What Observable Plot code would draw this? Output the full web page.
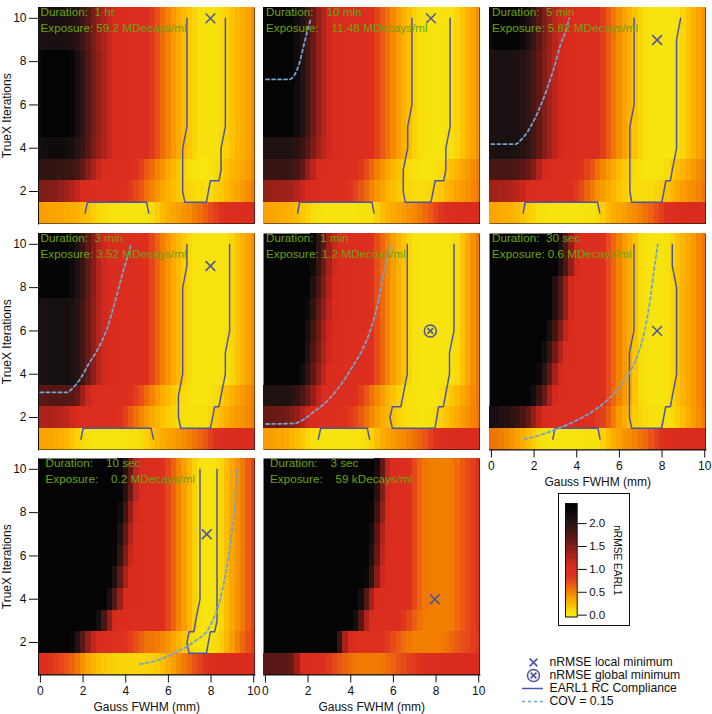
<!DOCTYPE html>
<html>
<head>
<meta charset="utf-8">
<script src="https://cdn.jsdelivr.net/npm/d3@7"></script>
<script src="https://cdn.jsdelivr.net/npm/@observablehq/plot@0.6"></script>
<style>
html,body{margin:0;padding:0;background:#fff;}
#chart{position:relative;width:712px;height:714px;overflow:hidden;font-family:"Liberation Sans",Arial,sans-serif;}
#chart svg{position:absolute;display:block;}
#cbbox{position:absolute;left:558px;top:493px;width:70px;height:131px;border:1.5px solid #111;}
</style>
</head>
<body>
<div id="chart"><div id="cbbox"></div></div>
<script>
// nRMSE EARL1 in hundredths, columns every 0.25 mm up to 10 mm (rows are right-aligned: columns
// left of a short row are off the top of the colour scale, i.e. black).
const p1R=[80,70,58,48,38,30,22,16,10,6,5,5,6,9,12,18,24,28,34,44];
const p1L4=[212,215,218,218,218,215,210,200,188,170,152,138,126,114,105,100,95,95,92,90,88];
const p1L6=[225,232,235,235,235,232,225,210,195,175,155,140,128,115,105,100,95,95,92,90,88];
const p1L10=[205,208,210,210,210,208,205,197,185,170,152,138,126,114,105,100,95,95,92,90,88];
const p1r1=[36,35,34,33,32,30,28,26,22,18,14,10,8,6,5,4,4,4,4,4,5,8,14,22,28,32,36,40,44,50,56,64,72,78,84,88,92,95,98,100,100];
const p1r2=[150,150,148,145,142,135,125,115,105,98,94,90,88,88,90,88,84,80,74,66,56,48,40,32,26,20,16,12,10,8,7,6,8,12,16,22,28,32,38,44,52];
const p1r3=[192,192,192,192,190,188,185,178,165,145,128,112,102,96,94,92,90,88,84,76,66,58,48,40,30,24,16,10,6,4,3,3,5,8,12,18,24,28,32,38,46];
const p1Rows=[p1r1,p1r2,p1r3,p1L4.concat(p1R),p1L6.concat(p1R),p1L6.concat(p1R),p1L6.concat(p1R),p1L6.concat(p1R),p1L10.concat(p1R),p1L10.concat(p1R)];

const p2R=[76,66,56,46,36,27,20,12,7,5,4,4,4,5,6,10,18,26,34,42];
const p2L4=[205,205,205,205,205,203,198,188,172,152,135,122,110,100,96,94,92,90,88,86,84];
const p2L5=[232,232,232,232,232,228,218,202,182,160,140,124,110,100,96,94,92,90,88,86,84];
const p2r1=[34,33,32,30,28,26,22,16,12,8,6,4,4,4,4,4,4,4,5,5,6,12,20,26,30,34,38,42,46,52,58,66,74,82,88,92,95,98,100,100,100];
const p2r2=[138,138,138,136,135,132,125,115,105,98,94,90,88,88,90,86,82,76,68,58,48,40,34,26,20,16,12,10,8,8,8,10,12,16,22,28,34,38,42,46,52];
const p2r3=[188,188,188,188,188,186,180,165,142,122,105,96,92,90,90,88,86,84,80,72,60,50,40,32,24,18,12,8,6,4,4,4,5,8,14,20,26,32,38,44,50];
const p2Rows=[p2r1,p2r2,p2r3,p2L4.concat(p2R),p2L5.concat(p2R),p2L5.concat(p2R),p2L5.concat(p2R),p2L5.concat(p2R),p2L5.concat(p2R),p2L5.concat(p2R)];

const p3R=[78,66,54,44,34,26,18,10,6,4,4,4,4,4,5,10,18,26,34,42];
const p3L4=[205,208,210,210,208,205,200,192,180,165,148,132,120,108,100,96,94,92,90,88,86];
const p3L9=[225,230,232,232,232,228,218,205,188,170,150,135,122,110,100,96,94,92,90,88,86];
const p3r1=[32,32,30,28,26,22,18,14,10,6,5,4,4,4,4,4,4,5,5,6,8,14,22,28,32,36,40,44,50,56,62,70,78,86,90,94,97,100,100,100,100];
const p3r2=[132,132,130,128,125,120,112,105,98,94,90,88,88,90,90,86,80,72,62,52,42,36,30,24,18,14,10,8,8,8,8,10,12,18,24,30,36,40,44,48,54];
const p3r3=[180,180,180,180,178,175,170,160,145,125,108,98,92,90,90,88,85,82,76,68,56,46,38,30,22,16,12,8,6,4,4,4,5,8,14,20,26,32,38,44,50];
const p3Rows=[p3r1,p3r2,p3r3,p3L4.concat(p3R),p3L4.concat(p3R),p3L4.concat(p3R),p3L4.concat(p3R),p3L4.concat(p3R),p3L9.concat(p3R),p3L9.concat(p3R)];

const p4R=[74,62,50,40,30,22,14,8,5,4,4,4,4,4,5,10,18,26,34,42];
const p4L4=[208,210,212,212,212,212,208,198,182,160,142,124,110,100,96,94,92,90,88,86,84];
const p4L8=[230,232,232,232,232,230,222,205,188,165,145,125,110,100,96,94,92,90,88,86,84];
const p4r1=[34,34,32,30,28,24,18,12,8,5,4,4,4,4,4,4,4,5,6,8,12,18,24,28,32,36,40,44,48,54,60,68,76,84,90,94,97,100,100,100,100];
const p4r2=[128,128,128,125,122,118,110,102,96,92,90,88,88,88,88,84,76,66,56,46,38,30,24,18,14,10,8,6,5,5,5,6,10,16,22,28,34,38,42,46,52];
const p4r3=[170,170,172,172,172,172,170,160,135,112,98,92,90,90,92,90,88,84,78,70,58,48,38,28,22,16,10,8,6,4,4,4,5,8,14,20,26,32,38,44,50];
const p4Rows=[p4r1,p4r2,p4r3,p4L4.concat(p4R),p4L4.concat(p4R),p4L4.concat(p4R),p4L4.concat(p4R),p4L8.concat(p4R),p4L8.concat(p4R),p4L8.concat(p4R)];

const p5R=[72,60,48,36,26,18,10,5,4,4,4,4,4,4,5,8,18,30,42,52];
const p5L4=[232,218,195,168,142,120,104,97,94,92,90,88,86,85,84];
const p5L5=[230,205,178,152,128,110,100,96,94,92,90,88,86,84];
const p5L6=[232,212,185,158,132,112,102,97,94,92,90,88,86,84];
const p5L7=[222,195,165,140,118,104,98,96,94,92,90,88,84];
const p5L8=[228,205,178,150,125,106,98,96,94,92,90,88,84];
const p5L9=[218,188,158,130,110,100,96,94,92,90,88,84];
const p5L10=[225,195,165,135,112,100,96,94,92,90,88,84];
const p5r1=[38,36,34,32,30,26,22,16,10,6,4,4,4,4,4,4,4,5,6,8,12,20,28,34,38,42,46,50,56,62,68,76,84,90,94,97,100,100,100,100,100];
const p5r2=[162,162,160,158,155,150,140,125,110,98,92,88,86,86,86,84,80,74,66,56,46,38,30,24,18,12,8,6,5,4,4,5,8,12,18,24,30,36,42,48,54];
const p5r3=[205,205,205,205,205,200,192,178,160,140,118,104,96,92,90,90,88,84,78,68,56,46,36,26,18,12,8,5,4,4,4,4,4,6,10,16,22,30,38,46,54];
const p5Rows=[p5r1,p5r2,p5r3,p5L4.concat(p5R),p5L5.concat(p5R),p5L6.concat(p5R),p5L7.concat(p5R),p5L8.concat(p5R),p5L9.concat(p5R),p5L10.concat(p5R)];

const p6R=[84,72,60,48,38,28,18,8,5,4,4,4,5,10,18,26,32,38,46,54];
const p6L3=[232,215,188,160,130,108,97,94,92,90,90,90,89,88];
const p6L4=[222,195,165,132,108,97,94,92,90,90,89,88];
const p6L5=[215,188,158,125,105,96,93,91,90,89,88];
const p6L6=[232,212,182,150,118,100,94,92,90,89,88];
const p6L7=[228,205,172,138,108,96,92,90,89,88];
const p6L9=[228,205,175,140,108,96,92,90,88];
const p6r1=[56,54,50,46,40,34,28,20,14,8,5,4,4,4,4,4,4,4,5,5,6,12,20,28,34,40,44,48,54,60,68,76,84,90,94,97,100,100,100,100,100];
const p6r2=[210,210,205,200,196,188,178,162,140,118,104,96,92,90,90,90,88,88,86,84,80,76,64,50,38,28,20,14,10,8,6,5,5,6,8,14,20,28,36,44,52];
const p6Rows=[p6r1,p6r2,p6L3.concat(p6R),p6L4.concat(p6R),p6L5.concat(p6R),p6L6.concat(p6R),p6L7.concat(p6R),p6L7.concat(p6R),p6L9.concat(p6R),p6L9.concat(p6R)];

const p7R=[92,90,85,75,62,48,36,24,12,6,4,4,5,10,20,32,42,52,64,76];
const p7r1=[88,86,82,78,74,68,62,52,42,32,26,20,16,14,12,10,10,10,10,10,10,12,14,20,28,36,44,52,60,68,76,84,90,94,97,98,100,100,100,100,100];
const p7L2=[225,200,170,140,115,100,95,90,86,84,82,78,70,62,56];
const p7R2=[54,50,46,40,32,24,16,10,6,4,4,5,8,14,24,36,48,60,70,78];
const p7L3=[215,180,140,108,97,94,93,92,92,91];
const p7L4=[232,210,172,135,106,97,95,94,93];
const p7L5=[230,205,165,128,104,97,95,94];
const p7L6=[225,190,150,112,98,95,94];
const p7L7=[232,205,165,125,102,96,94];
const p7L8=[218,182,140,108,96,94];
const p7L9=[228,200,160,120,100,96];
const p7Rows=[p7r1,p7L2.concat(p7R2),p7L3.concat(p7R),p7L4.concat(p7R),p7L5.concat(p7R),p7L6.concat(p7R),p7L7.concat(p7R),p7L8.concat(p7R),p7L9.concat(p7R),p7L9.concat(p7R)];

const p8R=[90,85,74,62,54,52,50,50,50,52,58,66,72,78,84];
const p8r1=[170,170,170,170,168,160,135,105,96,92,90,86,80,74,68,62,58,54,52,52,52,52,54,58,62,68,72,76,80,84,88,90,92,94,96,97,98,98,100,100,100];
const p8r2=[230,190,130,98,88,84,84,84,84,84,80,72,66,58,54,50,50,50,50,50,52,56,60,66,70,74,78,82];
const p8L3=[215,170,125,100,93,91,90,89,88];
const p8R3=[82,74,64,56,52,50,50,50,50,52,58,66,72,78,84];
const p8L4=[215,175,130,102,94,91,90,89];
const p8L5=[225,190,145,110,96,92,90];
const p8L6=[232,205,160,118,98,93,91];
const p8L7=[215,170,125,100,94,92];
const p8L8=[225,185,140,105,95,92];
const p8L9=[232,200,150,110,96,92];
const p8L10=[215,165,120,98,92];
const p8Rows=[p8r1,p8r2,p8L3.concat(p8R3),p8L4.concat(p8R),p8L5.concat(p8R),p8L6.concat(p8R),p8L7.concat(p8R),p8L8.concat(p8R),p8L9.concat(p8R),p8L10.concat(p8R)];

// EARL1 RC compliance outlines and COV = 0.15 curves: [Gauss FWHM, iterations]
const p1Comp=[[6.87,10],[6.87,5],[6.67,4],[6.67,2],[6.77,1.5],[7.78,1.5],[7.97,2.5],[8.37,2.5],[8.47,3],[8.47,4],[8.67,5],[8.67,10]];
const p1Comp2=[[2.1,1],[2.2,1.5],[4.98,1.5],[5.08,1]];
const p2Comp=[[6.87,10],[6.87,6],[6.67,5],[6.67,4],[6.46,3],[6.46,2],[6.56,1.5],[7.76,1.5],[7.96,2.5],[8.36,2.5],[8.46,3],[8.46,4],[8.66,5],[8.66,10]];
const p2Comp2=[[1.51,1],[1.6,1.5],[5,1.5],[5.09,1]];
const p2Cov=[[0.03,7.18],[1.12,7.18],[1.36,7.38],[1.59,7.92],[1.82,8.84],[1.98,9.46],[2.13,10]];
const p3Comp=[[6.69,10],[6.69,6],[6.49,5],[6.49,2],[6.58,1.5],[7.99,1.5],[8.18,2.5],[8.39,2.5],[8.48,3],[8.68,4],[8.68,9],[8.87,10]];
const p3Comp2=[[1.49,1],[1.58,1.5],[4.98,1.5],[5.08,1]];
const p3Cov=[[0,4.19],[1.14,4.19],[1.38,4.38],[1.69,4.76],[2,5.3],[2.32,6],[2.63,6.81],[2.95,7.77],[3.26,8.84],[3.5,9.46],[3.65,10]];
const p4Comp=[[6.87,10],[6.87,9],[6.67,8],[6.67,4],[6.47,3],[6.47,2],[6.58,1.5],[7.97,1.5],[8.17,2.5],[8.37,2.5],[8.67,4],[8.67,5],[8.87,6],[8.87,10]];
const p4Comp2=[[1.9,1],[2,1.5],[5.19,1.5],[5.3,1]];
const p4Cov=[[0,3.16],[1.25,3.16],[1.48,3.33],[1.87,3.79],[2.27,4.49],[2.66,5.1],[3.12,6.1],[3.52,7.42],[3.83,8.58],[4.06,9.35],[4.25,10]];
const p5Comp=[[6.65,10],[6.65,4],[6.35,2.5],[5.95,2.5],[5.84,2],[5.95,1.5],[7.95,1.5],[8.12,2.5],[8.34,2.5],[8.63,4],[8.63,5],[8.84,6],[8.84,10]];
const p5Comp2=[[2.48,1],[2.59,1.5],[4.78,1.5],[4.88,1]];
const p5Cov=[[0.03,1.7],[1.35,1.73],[1.74,1.88],[2.28,2.27],[2.83,2.7],[3.45,3.4],[4.07,4.33],[4.53,5.1],[4.92,6.03],[5.23,7.1],[5.54,8.65],[5.73,9.43],[5.9,10]];
const p6Comp=[[6.68,10],[6.68,6],[6.47,5],[6.47,2],[6.58,1.5],[7.98,1.5],[8.17,2.5],[8.39,2.5],[8.68,4],[8.68,8],[8.48,9],[8.48,10]];
const p6Comp2=[[2.88,1],[2.98,1.5],[5,1.5],[5.09,1]];
const p6Cov=[[1.54,1],[2.32,1.2],[2.98,1.44],[3.89,1.82],[4.98,2.44],[5.77,3.14],[6.47,4.07],[6.87,4.92],[7.18,6],[7.41,7.23],[7.62,8.78],[7.8,10]];
const p7Comp=[[7.48,10],[7.48,4],[7.28,3],[7.19,2.5],[6.97,2.5],[6.87,2],[6.97,1.5],[7.78,1.5],[7.97,2.5],[8.17,2.5],[8.28,3],[8.28,10]];
const p7Cov=[[4.66,1],[5.47,1.18],[6.4,1.57],[7.19,2.03],[7.97,2.8],[8.44,4.04],[8.75,5.58],[8.98,7.13],[9.14,8.83],[9.19,10]];

// nRMSE minimum of each panel: [Gauss FWHM, iterations]
const localMinima=[[7.97,10],[7.76,10],[7.77,9],[7.97,9],null,[7.77,6],[7.8,7],[7.94,4]];
const globalMinima=[null,null,null,null,[7.73,6],null,null,null];

const durationLabels=["Duration:\u00a0\u00a01 hr","Duration:\u00a0\u00a0\u00a0\u00a010 min","Duration:\u00a0\u00a05 min","Duration:\u00a0\u00a03 min","Duration:\u00a0\u00a01 min","Duration:\u00a0\u00a030 sec","Duration:\u00a0\u00a0\u00a0\u00a010 sec","Duration:\u00a0\u00a0\u00a0\u00a03 sec"];
const exposureLabels=["Exposure: 59.2 MDecays/ml","Exposure:\u00a0\u00a0\u00a0\u00a011.48 MDecays/ml","Exposure: 5.82 MDecays/ml","Exposure: 3.52 MDecays/ml","Exposure: 1.2 MDecays/ml","Exposure: 0.6 MDecays/ml","Exposure:\u00a0\u00a0\u00a0\u00a00.2 MDecays/ml","Exposure:\u00a0\u00a0\u00a0\u00a059 kDecays/ml"];
const xTicks=[0,2,4,6,8,10];
const yTicks=[2,4,6,8,10];
const cbTicks=[0,0.5,1,1.5,2];
const legendItems=["nRMSE local minimum","nRMSE global minimum","EARL1 RC Compliance","COV = 0.15"];

const colorStops=[0,.06,.12,.2,.35,.5,.7,.85,1.05,1.3,1.6,1.9,2.1,2.3];
const colorRange=["#f8e80f","#f7e00c","#fbd008","#fdbe00","#faa000","#f28000","#e8501a","#dc2f1e","#d92b1e","#a8221a","#6a1a16","#341512","#181010","#040404"];
const colorOpts={type:"linear",domain:colorStops,range:colorRange,clamp:true};

const NAVY="#4a55a6", BLUE="#6fa6d6", GREEN="#6aa50f", FONT="'Liberation Sans',Arial,sans-serif";
const panels=[
 {rows:p1Rows,comp:p1Comp,comp2:p1Comp2,left:38,top:7,tx:2,yAxis:true},
 {rows:p2Rows,comp:p2Comp,comp2:p2Comp2,cov:p2Cov,left:262.5,top:7,tx:2.5},
 {rows:p3Rows,comp:p3Comp,comp2:p3Comp2,cov:p3Cov,left:488.5,top:7,tx:2.5},
 {rows:p4Rows,comp:p4Comp,comp2:p4Comp2,cov:p4Cov,left:38,top:233,tx:2,yAxis:true},
 {rows:p5Rows,comp:p5Comp,comp2:p5Comp2,cov:p5Cov,left:262.5,top:233,tx:2.5},
 {rows:p6Rows,comp:p6Comp,comp2:p6Comp2,cov:p6Cov,left:488.5,top:233,tx:2.5,xAxis:true},
 {rows:p7Rows,comp:p7Comp,cov:p7Cov,left:38,top:458,tx:7,yAxis:true,xAxis:true},
 {rows:p8Rows,left:262.5,top:458,tx:6.5,xAxis:true}
];

const COLS=41, STEP=0.25;
const chart=document.getElementById("chart");

function place(svg,left,top){svg.style.left=left+"px";svg.style.top=top+"px";chart.appendChild(svg);}

panels.forEach((p,i)=>{
  const cells=[];
  p.rows.forEach((row,r)=>{
    if(row.length>COLS) throw new Error("panel "+(i+1)+" row "+(r+1)+" has "+row.length);
    const start=COLS-row.length;
    row.forEach((v,k)=>{
      const x=(start+k)*STEP;
      cells.push({x1:x-STEP/2,x2:x+STEP/2,y1:r+0.5,y2:r+1.5,v:v/100});
    });
  });
  const ml=p.yAxis?38:0, mb=p.xAxis?39:0, w=216.5, h=216.5;
  const marks=[
    Plot.frame({fill:"#040404",stroke:"none"}),
    Plot.rect(cells,{x1:"x1",x2:"x2",y1:"y1",y2:"y2",fill:"v",shapeRendering:"crispEdges",clip:true})
  ];
  if(p.comp) marks.push(Plot.line(p.comp,{x:d=>d[0],y:d=>d[1],stroke:NAVY,strokeWidth:1.5}));
  if(p.comp2) marks.push(Plot.line(p.comp2,{x:d=>d[0],y:d=>d[1],stroke:NAVY,strokeWidth:1.5}));
  if(p.cov) marks.push(Plot.line(p.cov,{x:d=>d[0],y:d=>d[1],stroke:BLUE,strokeWidth:1.8,strokeDasharray:"3,3",curve:"monotone-x"}));
  if(localMinima[i]) marks.push(Plot.dot([localMinima[i]],{x:d=>d[0],y:d=>d[1],symbol:"times",r:4.5,stroke:NAVY,strokeWidth:1.5}));
  if(globalMinima[i]) marks.push(
    Plot.dot([globalMinima[i]],{x:d=>d[0],y:d=>d[1],r:6,stroke:NAVY,strokeWidth:1.5}),
    Plot.dot([globalMinima[i]],{x:d=>d[0],y:d=>d[1],symbol:"times",r:2.6,stroke:NAVY,strokeWidth:1.6})
  );
  marks.push(
    Plot.text([durationLabels[i]],{frameAnchor:"top-left",dx:p.tx,dy:5,lineAnchor:"middle",fill:GREEN,fontSize:11.7}),
    Plot.text([exposureLabels[i]],{frameAnchor:"top-left",dx:p.tx,dy:21,lineAnchor:"middle",fill:GREEN,fontSize:11.7})
  );
  if(p.yAxis) marks.push(
    Plot.axisY({anchor:"left",ticks:yTicks,tickSize:9,tickPadding:3,tickFormat:d3.format("d"),label:"TrueX Iterations",labelAnchor:"center",labelArrow:"none",labelOffset:36,fontSize:12}),
    Plot.frame({anchor:"left",stroke:"#111"})
  ); else marks.push(Plot.axisY({ticks:[]}));
  if(p.xAxis) marks.push(
    Plot.axisX({anchor:"bottom",ticks:xTicks,tickSize:8,tickPadding:3,tickFormat:d3.format("d"),label:"Gauss FWHM (mm)",labelAnchor:"center",labelArrow:"none",labelOffset:36,fontSize:12}),
    Plot.frame({anchor:"bottom",stroke:"#111"})
  ); else marks.push(Plot.axisX({ticks:[]}));
  const svg=Plot.plot({
    width:ml+w+1, height:h+mb,
    marginLeft:ml, marginRight:1, marginTop:0, marginBottom:mb,
    x:{domain:[-0.09,10.06]}, y:{domain:[0.5,10.5]},
    color:colorOpts,
    style:{fontFamily:FONT,fontSize:"11.6px",color:"#111",background:"none",overflow:"visible"},
    marks
  });
  place(svg,p.left-ml,p.top);
});

// colour bar
const cbCells=d3.range(-0.04,2.44,0.02).map(v=>({y1:v,y2:v+0.02,v:Math.max(v,0)}));
place(Plot.plot({
  width:72,height:133,marginLeft:7,marginRight:53.3,marginTop:10,marginBottom:9.5,
  x:{axis:null,domain:[0,1]},
  y:{domain:[-0.04,2.44]},
  color:colorOpts,
  style:{fontFamily:FONT,fontSize:"11.5px",color:"#111",background:"none"},
  marks:[
    Plot.rect(cbCells,{x1:0,x2:1,y1:"y1",y2:"y2",fill:"v",shapeRendering:"crispEdges"}),
    Plot.frame({stroke:"#111"}),
    Plot.axisY({anchor:"right",ticks:cbTicks,tickSize:9,tickPadding:3,tickFormat:d3.format(".1f"),label:null,fontSize:11.5}),
    Plot.text(["nRMSE EARL1"],{frameAnchor:"right",dx:40,rotate:90,textAnchor:"middle",lineAnchor:"middle",fontSize:10.2,fill:"#111"})
  ]
}),558,493);

// key
place(Plot.plot({
  width:190,height:69,margin:0,
  x:{axis:null,domain:[0,190],range:[0,190]},
  y:{axis:null,type:"point",domain:legendItems,range:[9,63]},
  style:{fontFamily:FONT,fontSize:"12.2px",color:"#111",background:"none"},
  marks:[
    Plot.dot([legendItems[0],legendItems[1]],{y:d=>d,frameAnchor:"left",dx:13,symbol:"times",r:d=>d===legendItems[0]?4.5:2.6,stroke:NAVY,strokeWidth:1.6}),
    Plot.dot([legendItems[1]],{y:d=>d,frameAnchor:"left",dx:13,r:6,stroke:NAVY,strokeWidth:1.5}),
    Plot.ruleY([legendItems[2]],{y:d=>d,x1:2,x2:23,stroke:NAVY,strokeWidth:1.5}),
    Plot.ruleY([legendItems[3]],{y:d=>d,x1:2,x2:23,stroke:BLUE,strokeWidth:1.5,strokeDasharray:"3,3"}),
    Plot.text(legendItems,{y:d=>d,frameAnchor:"left",dx:29,textAnchor:"start",fontSize:12.2,fill:"#111"})
  ]
}),520,645);
</script>
</body>
</html>
